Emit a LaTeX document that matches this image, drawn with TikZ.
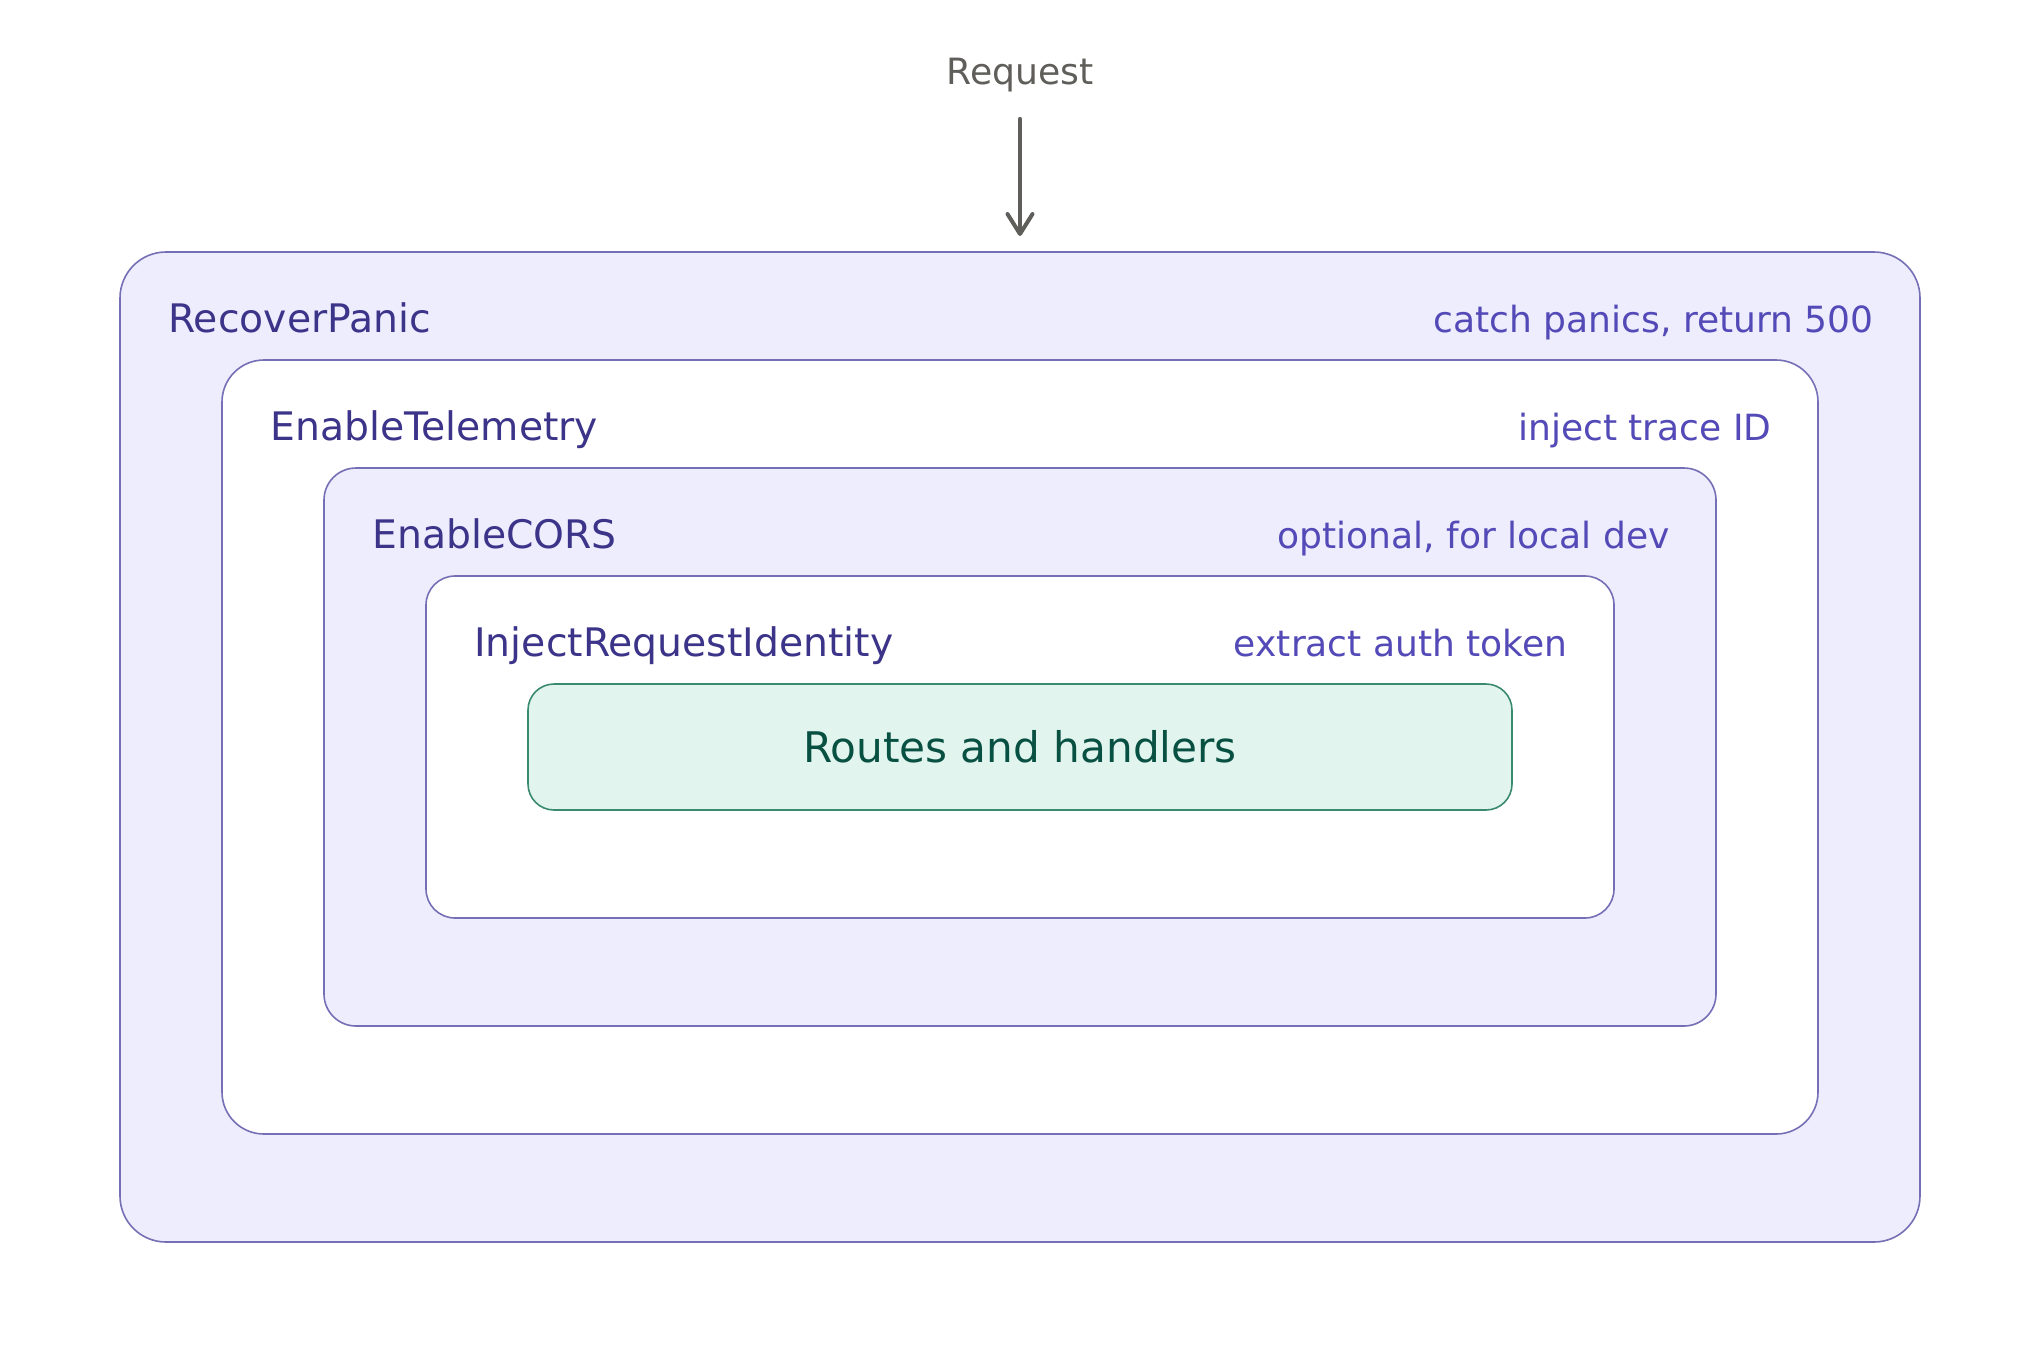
\documentclass[tikz,border=0pt]{standalone}
\usepackage{fontspec}
\setmainfont{DejaVu Sans}
\usetikzlibrary{arrows.meta}
\definecolor{lav}{HTML}{EEEDFE}
\definecolor{boxline}{HTML}{7570B5}
\definecolor{labc}{HTML}{3C3489}
\definecolor{notec}{HTML}{534AB7}
\definecolor{greyc}{HTML}{5F5E5A}
\definecolor{tealfill}{HTML}{E1F5EE}
\definecolor{tealline}{HTML}{3A8A70}
\definecolor{tealtext}{HTML}{085041}
\tikzset{
  layerbox/.style={draw=boxline, line width=0.8pt, inner sep=0pt, outer sep=0pt},
  lablbl/.style={text=labc, font=\fontsize{19.65pt}{24pt}\selectfont, inner sep=0pt, anchor=base west},
  notelbl/.style={text=notec, font=\fontsize{18.03pt}{22pt}\selectfont, inner sep=0pt, anchor=base east},
  routebox/.style={draw=tealline, fill=tealfill, line width=0.8pt, inner sep=0pt, outer sep=0pt,
    text=tealtext, font=\fontsize{21.1pt}{26pt}\selectfont},
  reqarrow/.style={draw=greyc, line width=2pt, line cap=round, -{Straight Barb[length=10pt,width=12.5pt,line cap=round,line join=round]}}
}
\begin{document}
\begin{tikzpicture}[x=0.5pt,y=-0.5pt]
\useasboundingbox (0,0) rectangle (2040,1350);
\node[layerbox, fill=lav, rounded corners=23pt, minimum width=900pt, minimum height=495pt] (outer) at (1020,747) {};
\node[layerbox, fill=white, rounded corners=21pt, minimum width=798pt, minimum height=387pt] (tele) at (1020,747) {};
\node[layerbox, fill=lav, rounded corners=16pt, minimum width=696pt, minimum height=279pt] (cors) at (1020,747) {};
\node[layerbox, fill=white, rounded corners=14.5pt, minimum width=594pt, minimum height=171pt] (inject) at (1020,747) {};
\node[routebox, rounded corners=13pt, minimum width=492pt, minimum height=63pt] (routes) at (1020,747) {Routes and handlers};

\node[lablbl] (l1) at (168,332) {RecoverPanic};
\node[notelbl] (n1) at (1874,332) {catch panics, return 500};
\node[lablbl] (l2) at (270,440) {EnableTelemetry};
\node[notelbl] (n2) at (1772,440) {inject trace ID};
\node[lablbl] (l3) at (372,548) {EnableCORS};
\node[notelbl] (n3) at (1670,548) {optional, for local dev};
\node[lablbl] (l4) at (474,656) {InjectRequestIdentity};
\node[notelbl] (n4) at (1568,656) {extract auth token};

\node[text=greyc, font=\fontsize{18.1pt}{22pt}\selectfont, inner sep=0pt, anchor=base] (req) at (1020,84) {Request};
\draw[reqarrow, shorten <=13.5pt, shorten >=8pt] (req.south) -- (outer.north);
\end{tikzpicture}
\end{document}
